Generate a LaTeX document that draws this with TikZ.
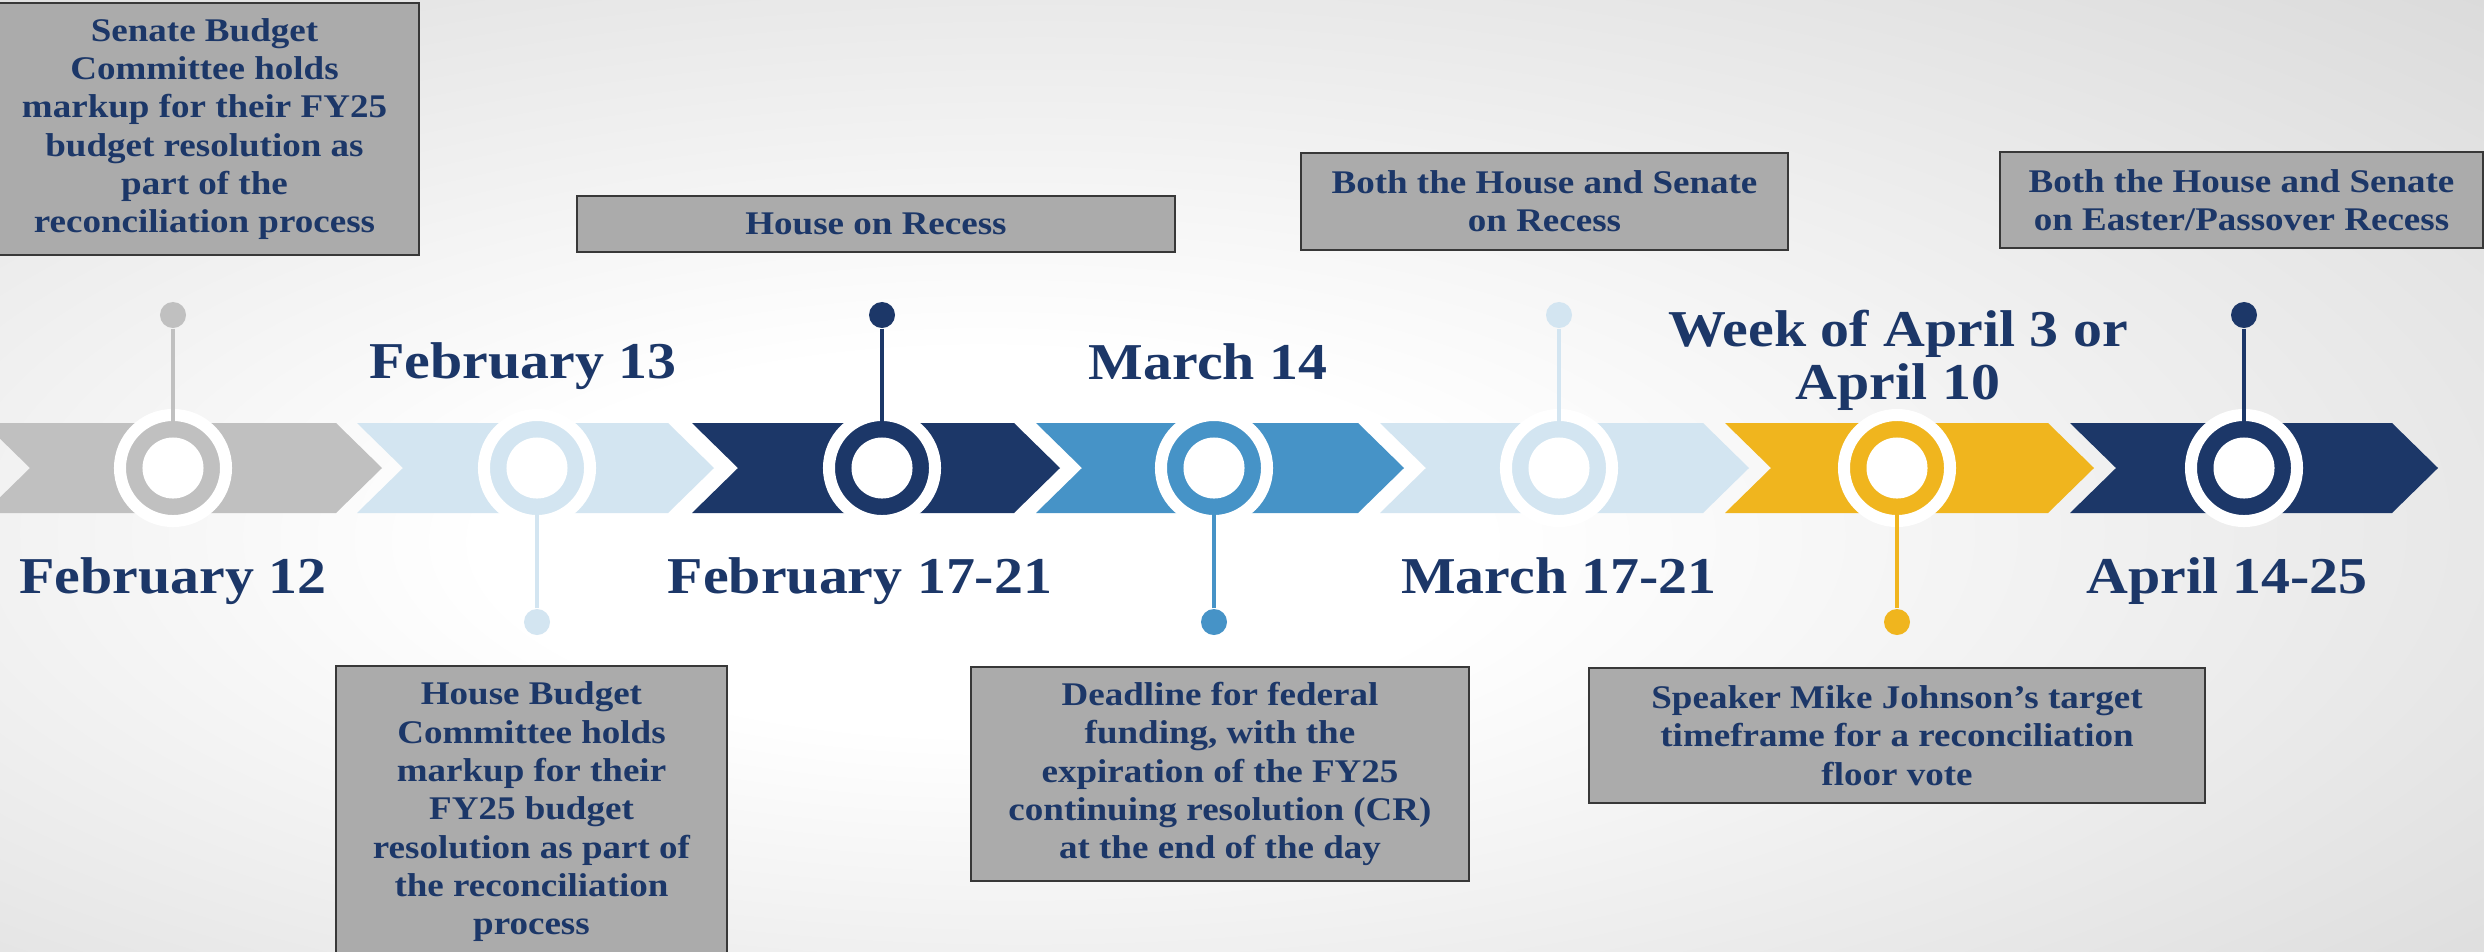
\documentclass[tikz,border=0pt]{standalone}
\usepackage{fontspec}
\setmainfont{Liberation Serif}[FakeStretch=1.12]
\usepackage{tikz}
\usetikzlibrary{positioning}
\definecolor{tlnavy}{HTML}{1C3768}
\definecolor{tlgray}{HTML}{C0C0C0}
\definecolor{tllight}{HTML}{D3E5F1}
\definecolor{tlblue}{HTML}{4693C7}
\definecolor{tlgold}{HTML}{F0B51E}
\definecolor{tlbox}{HTML}{ABABAB}
\definecolor{tlline}{HTML}{383838}
\definecolor{tlbg}{HTML}{D0D0D0}
\pgfdeclareradialshading{tlshade}{\pgfpoint{-6bp}{-4bp}}{color(0bp)=(white); color(10bp)=(white); color(48bp)=(tlbg); color(80bp)=(tlbg)}

\begin{document}
\begin{tikzpicture}[x=0.01cm, y=-0.01cm,
  infobox/.style={draw=tlline, fill=tlbox, line width=0.7pt, align=center, inner sep=0pt,
                  font=\fontsize{9.4}{10.9}\selectfont\bfseries\color{tlnavy}},
  datelbl/.style={inner sep=0pt, align=center,
                  font=\fontsize{14.7}{15.1}\selectfont\bfseries\color{tlnavy}},
  ring/.style={circle, draw=white, line width=0.12cm, minimum size=1.06cm,
               inner sep=0pt, outer sep=0pt},
  hole/.style={circle, fill=white, minimum size=0.61cm, inner sep=0pt},
  knob/.style={circle, minimum size=0.26cm, inner sep=0pt},
  stalk/.style={line width=1.3pt}
]
  \clip (0,0) rectangle (2484,951);
  \shade[shading=tlshade] (0,0) rectangle (2484,951);

  % chevron band
  \fill[tlgray]  (-16,423) -- (336,423) -- (382,468) -- (336,513) -- (-16,513) -- (30,468) -- cycle;
  \fill[tllight] (357,423) -- (668,423) -- (714,468) -- (668,513) -- (357,513) -- (403,468) -- cycle;
  \fill[tlnavy]  (692,423) -- (1014,423) -- (1060,468) -- (1014,513) -- (692,513) -- (738,468) -- cycle;
  \fill[tlblue]  (1036,423) -- (1358,423) -- (1404,468) -- (1358,513) -- (1036,513) -- (1082,468) -- cycle;
  \fill[tllight] (1380,423) -- (1703,423) -- (1749,468) -- (1703,513) -- (1380,513) -- (1426,468) -- cycle;
  \fill[tlgold]  (1725,423) -- (2048,423) -- (2094,468) -- (2048,513) -- (1725,513) -- (1771,468) -- cycle;
  \fill[tlnavy]  (2070,423) -- (2392,423) -- (2438,468) -- (2392,513) -- (2070,513) -- (2116,468) -- cycle;

  % milestones
  \node[ring, fill=tlgray] (c1) at (173,468) {};
  \node[knob, fill=tlgray] (d1) at (173,315) {};
  \draw[stalk, tlgray] (d1) -- (c1.center);
  \node[hole] (h1) at (c1) {};

  \node[ring, fill=tllight] (c2) at (537,468) {};
  \node[knob, fill=tllight] (d2) at (537,622) {};
  \draw[stalk, tllight] (d2) -- (c2.center);
  \node[hole] (h2) at (c2) {};

  \node[ring, fill=tlnavy] (c3) at (882,468) {};
  \node[knob, fill=tlnavy] (d3) at (882,315) {};
  \draw[stalk, tlnavy] (d3) -- (c3.center);
  \node[hole] (h3) at (c3) {};

  \node[ring, fill=tlblue] (c4) at (1214,468) {};
  \node[knob, fill=tlblue] (d4) at (1214,622) {};
  \draw[stalk, tlblue] (d4) -- (c4.center);
  \node[hole] (h4) at (c4) {};

  \node[ring, fill=tllight] (c5) at (1559,468) {};
  \node[knob, fill=tllight] (d5) at (1559,315) {};
  \draw[stalk, tllight] (d5) -- (c5.center);
  \node[hole] (h5) at (c5) {};

  \node[ring, fill=tlgold] (c6) at (1897,468) {};
  \node[knob, fill=tlgold] (d6) at (1897,622) {};
  \draw[stalk, tlgold] (d6) -- (c6.center);
  \node[hole] (h6) at (c6) {};

  \node[ring, fill=tlnavy] (c7) at (2244,468) {};
  \node[knob, fill=tlnavy] (d7) at (2244,315) {};
  \draw[stalk, tlnavy] (d7) -- (c7.center);
  \node[hole] (h7) at (c7) {};

  % dates
  \node[datelbl, anchor=base] (feb12) at (173,593) {February 12};
  \node[datelbl, anchor=base] (feb13) at (523,378) {February 13};
  \node[datelbl, anchor=base] (feb17) at (860,593) {February 17-21};
  \node[datelbl, anchor=base] (mar14) at (1208,379) {March 14};
  \node[datelbl, anchor=base] (mar17) at (1559,593) {March 17-21};
  \node[datelbl, anchor=south] (apr3) at (1898,411) {Week of April 3 or\\April 10};
  \node[datelbl, anchor=base] (apr14) at (2227,593) {April 14-25};

  % notes
  \node[infobox, minimum width=4.29cm, minimum height=2.52cm] (senate) at (204.5,129)
    {Senate Budget\\Committee holds\\markup for their FY25\\budget resolution as\\part of the\\reconciliation process};
  \node[infobox, minimum width=3.91cm, minimum height=2.92cm] (housebud) at (531.5,812)
    {House Budget\\Committee holds\\markup for their\\FY25 budget\\resolution as part of\\the reconciliation\\process};
  \node[infobox, minimum width=5.98cm, minimum height=0.56cm] (houserec) at (876,224)
    {House on Recess};
  \node[infobox, minimum width=4.87cm, minimum height=0.97cm] (bothrec) at (1544.5,201.5)
    {Both the House and Senate\\on Recess};
  \node[infobox, minimum width=4.98cm, minimum height=2.14cm] (deadline) at (1220,774)
    {Deadline for federal\\funding, with the\\expiration of the FY25\\continuing resolution (CR)\\at the end of the day};
  \node[infobox, minimum width=6.16cm, minimum height=1.35cm] (speaker) at (1897,735.5)
    {Speaker Mike Johnson’s target\\timeframe for a reconciliation\\floor vote};
  \node[infobox, minimum width=4.83cm, minimum height=0.96cm] (easter) at (2241.5,200)
    {Both the House and Senate\\on Easter/Passover Recess};
\end{tikzpicture}
\end{document}
